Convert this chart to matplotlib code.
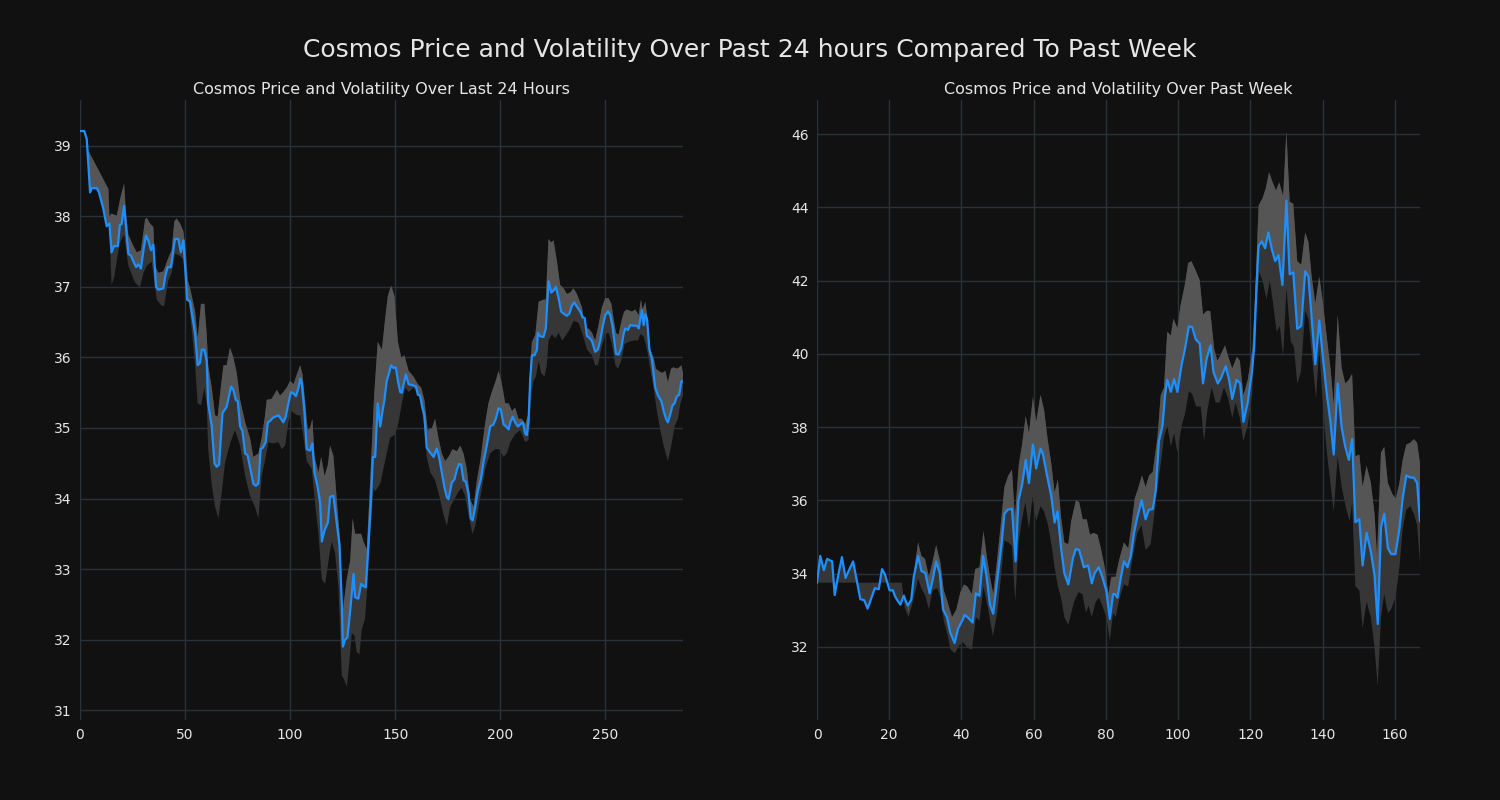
import matplotlib
matplotlib.use("Agg")
import matplotlib.pyplot as plt
import numpy as np

# ---------------- data: last 24 hours (5-min steps) ----------------
day_x = [0, 2, 3.2, 4.8, 5.6, 8, 9, 11, 12.7, 14, 15, 16.2, 18, 19, 19.8, 21, 22.2, 23, 24.3, 25.4, 26.7, 27.8, 29,
         30.2, 31.4, 32.5, 33.8, 34.9, 36.2, 37.3, 39.7, 40.5, 41.7, 43.3, 45.2, 46.8, 48, 49.2, 50, 51, 52.4, 54.8,
         56, 57.1, 58, 59.2, 60.3, 61, 62.7, 64, 65, 66.2, 67.8, 69.8, 71.9, 73, 74.1, 75.1, 76.2, 77.3, 78.6, 79.8,
         80.9, 82.5, 83.7, 84.9, 86, 87, 88.4, 89.4, 90.5, 91.6, 92.9, 94.4, 95.7, 96.8, 97.9, 99.2, 100.4, 101.6,
         102.8, 104, 104.9, 105.6, 106.8, 107.9, 109.5, 110.6, 111.6, 113.2, 114.3, 115.1, 116.4, 118, 119, 120.6,
         122.2, 123.5, 124.6, 125.1, 126.2, 127.3, 128.6, 130.2, 130.9, 132.5, 133.8, 134.9, 136, 137.3, 138.4,
         139.4, 140.5, 141.7, 142.9, 144, 144.9, 146, 147.1, 148.1, 149.2, 150.3, 151.3, 152.4, 153.2, 154.4, 155.1,
         156.4, 157.9, 159.9, 160.8, 161.9, 162.7, 163.9, 165, 166.7, 168.3, 169.8, 170.9, 172.2, 173.5, 174.6,
         175.4, 177, 178.2, 179.4, 180.4, 181.4, 182.5, 183.6, 184.9, 186, 186.9, 188.1, 189.3, 190.9, 192, 193.6,
         195.2, 196.8, 197.9, 199.2, 200.3, 201.6, 202.8, 204, 204.8, 206, 207.1, 208.4, 209.5, 210.8, 211.9, 212.7,
         213.5, 214.3, 215.1, 216.3, 217.5, 217.9, 219, 220.6, 221.7, 223, 224.3, 225.4, 226.5, 227.8, 229, 230.2,
         231.7, 232.9, 234.1, 235.2, 236.5, 238.1, 239.2, 240.2, 241.3, 242.4, 243.7, 245.2, 246.5, 247.6, 248.7,
         250, 251.3, 252.4, 253.5, 254.4, 255.1, 256.3, 257.6, 258.7, 259.5, 260.8, 261.9, 263.5, 265.1, 265.9,
         266.7, 267.5, 268.3, 269.1, 269.9, 271, 272.2, 273.8, 275.1, 276.7, 277.8, 278.9, 279.8, 280.9, 282, 283,
         284.1, 285.2, 286.2, 287]
day_price = [39.21, 39.21, 39.1, 38.34, 38.4, 38.4, 38.34, 38.12, 37.86, 37.9, 37.49, 37.58, 37.58, 37.88, 37.89,
             38.15, 37.74, 37.47, 37.44, 37.36, 37.28, 37.32, 37.26, 37.52, 37.73, 37.66, 37.52, 37.6, 37.0, 36.96,
             36.98, 37.14, 37.28, 37.28, 37.68, 37.68, 37.49, 37.66, 37.3, 36.82, 36.79, 36.33, 35.89, 35.92, 36.11,
             36.11, 35.95, 35.35, 35.02, 34.5, 34.45, 34.48, 35.21, 35.3, 35.59, 35.54, 35.4, 35.38, 35.02, 34.96,
             34.64, 34.61, 34.45, 34.21, 34.18, 34.21, 34.7, 34.72, 34.8, 35.08, 35.1, 35.14, 35.16, 35.18, 35.13,
             35.08, 35.16, 35.35, 35.51, 35.49, 35.45, 35.57, 35.7, 35.62, 35.24, 34.7, 34.68, 34.78, 34.37, 34.15,
             33.93, 33.39, 33.55, 33.66, 34.02, 34.04, 33.66, 33.34, 32.52, 31.9, 32.0, 32.03, 32.41, 32.93, 32.6,
             32.58, 32.79, 32.76, 32.74, 33.34, 33.93, 34.59, 34.59, 35.35, 35.02, 35.24, 35.4, 35.67, 35.78, 35.89,
             35.85, 35.86, 35.67, 35.51, 35.5, 35.67, 35.76, 35.62, 35.61, 35.59, 35.47, 35.46, 35.32, 35.18, 34.72,
             34.65, 34.59, 34.71, 34.59, 34.37, 34.15, 34.02, 33.99, 34.23, 34.27, 34.41, 34.49, 34.48, 34.26, 34.24,
             34.07, 33.72, 33.69, 33.88, 34.1, 34.29, 34.51, 34.75, 35.02, 35.05, 35.13, 35.28, 35.26, 35.05, 35.02,
             34.98, 35.08, 35.16, 35.08, 35.02, 35.05, 35.08, 34.92, 34.9, 35.1, 35.7, 36.03, 36.03, 36.11, 36.35,
             36.3, 36.29, 36.41, 37.08, 36.92, 36.95, 37.0, 36.84, 36.65, 36.62, 36.59, 36.62, 36.73, 36.78, 36.72,
             36.65, 36.57, 36.56, 36.3, 36.28, 36.23, 36.08, 36.11, 36.24, 36.43, 36.6, 36.65, 36.6, 36.43, 36.22,
             36.05, 36.04, 36.13, 36.33, 36.41, 36.39, 36.46, 36.45, 36.45, 36.41, 36.54, 36.67, 36.46, 36.61, 36.54,
             36.11, 35.97, 35.57, 35.46, 35.38, 35.24, 35.13, 35.08, 35.19, 35.32, 35.35, 35.45, 35.47, 35.66, 35.66]

day_upper_x = [0, 2, 4, 13.5, 14, 15, 17.5, 19, 21, 21.8, 23, 25.4, 27, 29, 31, 31.8, 33.3, 34.9, 35.7, 37.3, 39.7,
               42, 43.6, 44.9, 46, 47.6, 49.2, 50.3, 51.3, 52.4, 54.8, 56, 57.6, 59.2, 60.3, 61, 62.7, 64.3, 65.5, 67,
               68.3, 69.8, 71.4, 73, 74.6, 76.2, 78.6, 80.9, 82.5, 84.9, 86.5, 88, 88.9, 91.1, 93.7, 95.2, 96.8, 98.4,
               100, 101.6, 103.2, 104.8, 105.9, 107.2, 108.4, 109.5, 110.6, 111.6, 113.5, 114.8, 116.4, 118, 119,
               120.6, 122.2, 123.8, 124.9, 126.9, 128.6, 129.8, 130.9, 133.8, 134.9, 136.5, 137.6, 138.9, 140, 141.7,
               143.7, 145.2, 146.5, 148.1, 149.7, 151.3, 152.9, 154.4, 156.4, 158.7, 160.8, 162.4, 163.9, 165.5,
               167.5, 169, 170.6, 172.2, 173.8, 175.4, 177.3, 179.4, 181, 182.5, 184.1, 185.7, 187.3, 188.9, 190.5,
               192.9, 194.4, 196, 197.9, 199.2, 200.5, 202.4, 204, 205.6, 207.1, 208.7, 210.3, 211.9, 213.2, 214.3,
               215.1, 216.7, 218.3, 220.6, 221.7, 223, 224.3, 225.4, 227, 228.5, 230.2, 231.7, 233.3, 234.9, 236.5,
               238.9, 240.5, 242.1, 243.7, 245.2, 246.8, 248.4, 250, 251.6, 252.9, 254, 255.1, 256.3, 257.9, 259,
               260.3, 262.7, 264.3, 265.9, 267, 267.8, 269.1, 270.3, 271.4, 273, 274.1, 275.4, 277, 278.6, 279.8,
               281.3, 282.5, 284.1, 285.2, 286.2, 287]
day_upper = [39.21, 39.21, 38.93, 38.39, 38.0, 38.04, 38.01, 38.23, 38.47, 38.07, 37.74, 37.58, 37.49, 37.52, 37.96,
             37.98, 37.9, 37.85, 37.3, 37.2, 37.22, 37.41, 37.52, 37.93, 37.97, 37.9, 37.79, 37.52, 37.09, 36.98,
             36.65, 36.27, 36.76, 36.76, 36.33, 35.89, 35.57, 35.18, 35.16, 35.57, 35.89, 35.89, 36.14, 36.0, 35.78,
             35.4, 35.08, 34.86, 34.59, 34.64, 34.86, 35.16, 35.4, 35.41, 35.54, 35.46, 35.51, 35.57, 35.67, 35.62,
             35.76, 35.89, 35.76, 35.35, 34.97, 35.0, 35.13, 34.59, 34.37, 34.59, 34.32, 34.48, 34.75, 34.61, 33.99,
             33.39, 32.36, 32.85, 33.12, 33.72, 33.5, 33.5, 33.39, 33.28, 33.93, 34.75, 35.46, 36.22, 36.11, 36.54,
             36.87, 37.02, 36.87, 36.22, 36.0, 36.03, 35.81, 35.73, 35.62, 35.57, 35.4, 34.97, 35.0, 35.13, 34.86,
             34.64, 34.53, 34.59, 34.7, 34.67, 34.75, 34.64, 34.42, 33.99, 33.88, 34.26, 34.53, 35.08, 35.35, 35.51,
             35.67, 35.81, 35.67, 35.35, 35.35, 35.24, 35.29, 35.13, 35.13, 35.05, 35.18, 35.85, 36.22, 36.32, 36.79,
             36.82, 36.82, 37.68, 37.63, 37.66, 37.36, 37.03, 36.98, 36.9, 36.92, 36.98, 36.9, 36.71, 36.41, 36.41,
             36.35, 36.24, 36.46, 36.71, 36.84, 36.84, 36.76, 36.54, 36.35, 36.32, 36.54, 36.65, 36.68, 36.65, 36.68,
             36.6, 36.82, 36.68, 36.79, 36.49, 36.11, 36.0, 35.84, 35.81, 35.78, 35.81, 35.65, 35.84, 35.86, 35.84,
             35.86, 35.89, 35.78]

day_lower_x = [0, 2, 3.2, 4.8, 5.6, 8, 9, 11, 12.7, 14, 15, 16.3, 18, 19, 21, 23, 26.2, 28.6, 30.2, 31.8, 34.1, 36.5,
               38.9, 40, 42, 43.6, 45.2, 47.6, 49.2, 50.8, 52.4, 54.8, 56, 57.6, 59.2, 60.3, 61, 62.7, 64.3, 65.9,
               67.5, 69, 71.4, 73.8, 76.2, 78.6, 80.9, 83.3, 84.9, 86.5, 88, 89.7, 92, 94.4, 96, 97.6, 99.2, 100.8,
               103.2, 104.8, 106.4, 107.9, 110.3, 111.9, 113.5, 115.1, 116.7, 118.3, 119.8, 121.4, 123, 124.6, 125.8,
               127, 128.1, 129.4, 130.6, 131.7, 133, 134.1, 135.7, 137, 138.1, 139.7, 140.5, 142.9, 145.2, 147.6, 150,
               151.6, 153.2, 154.8, 156.4, 158.7, 160.8, 162.4, 163.9, 165, 166.7, 169, 171.4, 173, 174.6, 176.2,
               178.2, 180.2, 181.7, 183.3, 184.9, 186.8, 188.1, 189.7, 191.3, 192.9, 195.2, 197.6, 199.5, 201.6,
               203.2, 204.8, 207.1, 209.5, 211.9, 213.5, 214.8, 215.9, 217, 218.3, 219.5, 221.1, 222.2, 223, 224.6,
               226.2, 227.8, 229.4, 231, 232.9, 235, 237.3, 239.2, 241.3, 243.7, 245.2, 246.5, 248, 250, 251.6, 253.2,
               254.8, 256, 257.6, 259.2, 261.1, 263.5, 265.6, 266.7, 268.3, 269.9, 271.4, 273, 274.6, 276.2, 277.8,
               279.8, 281.4, 283, 284.6, 285.8, 287]
day_lower = [39.21, 39.21, 39.1, 38.34, 38.4, 38.4, 38.34, 38.12, 37.86, 37.9, 37.03, 37.14, 37.47, 37.63, 37.74,
             37.3, 37.06, 37.0, 37.2, 37.3, 37.36, 36.82, 36.73, 36.73, 37.09, 37.2, 37.47, 37.44, 37.39, 37.03,
             36.63, 35.89, 35.35, 35.32, 35.57, 35.35, 34.7, 34.2, 33.88, 33.72, 34.1, 34.5, 34.78, 34.97, 34.75,
             34.32, 34.04, 33.88, 33.72, 34.32, 34.53, 34.8, 34.78, 34.8, 34.7, 34.75, 35.08, 35.24, 35.18, 35.18,
             34.86, 34.53, 34.42, 33.93, 33.5, 32.85, 32.79, 33.12, 33.39, 33.23, 32.74, 31.49, 31.43, 31.33, 31.65,
             32.09, 32.06, 31.82, 31.79, 32.14, 32.3, 32.85, 33.5, 34.15, 34.1, 34.21, 34.53, 34.86, 34.91, 35.08,
             35.35, 35.57, 35.51, 35.57, 35.51, 35.32, 35.02, 34.59, 34.37, 34.26, 33.99, 33.77, 33.61, 33.88, 33.99,
             34.1, 34.15, 34.04, 33.77, 33.5, 33.61, 33.88, 34.15, 34.42, 34.64, 34.7, 34.7, 34.59, 34.64, 34.8,
             34.91, 34.97, 34.8, 34.83, 35.51, 35.67, 35.73, 35.95, 35.78, 35.73, 35.89, 36.24, 36.33, 36.27, 36.35,
             36.24, 36.3, 36.39, 36.52, 36.49, 36.33, 36.11, 36.03, 35.89, 35.89, 36.11, 36.33, 36.35, 36.19, 35.89,
             35.84, 35.95, 36.19, 36.22, 36.24, 36.24, 36.33, 36.3, 36.11, 35.84, 35.57, 35.24, 34.97, 34.75, 34.53,
             34.75, 35.02, 35.13, 35.35, 35.46]

# ---------------- data: past week (hourly) ----------------
week_x = [0, 0.9, 1.9, 2.8, 4.2, 4.9, 5.8, 6.9, 7.9, 9, 10, 10.9, 12, 13.1, 14, 15.1, 16, 17.1, 18, 18.8, 19.4, 20.1,
          21, 21.7, 22.5, 23.1, 24, 25.1, 26.1, 26.8, 28, 28.9, 30, 31.2, 32, 33, 34, 34.9, 36, 36.9, 38.1, 39.1, 40.2,
          40.9, 42, 43.1, 44, 45, 46, 46.9, 47.9, 48.8, 49.9, 51.1, 51.9, 52.8, 54, 55, 55.8, 56.8, 57.8, 58.7, 59.8,
          60.7, 61.9, 62.6, 63.7, 64.9, 65.8, 66.6, 67.6, 68.5, 69.6, 70.9, 71.7, 72.6, 73.9, 75.1, 76.1, 76.9, 78,
          79, 80.1, 81.1, 82, 82.5, 83.2, 84.1, 85, 86, 86.9, 87.8, 88.7, 89.9, 91, 91.9, 93, 93.8, 94.7, 95.7, 96.4,
          97, 98, 98.9, 99.8, 101, 101.9, 103, 103.9, 104.9, 106, 106.9, 107.9, 109, 109.8, 111, 111.9, 113.2, 114.1,
          115, 116.2, 117.2, 118.1, 119.3, 120.5, 121.1, 121.7, 122.3, 123.2, 124.1, 125, 126, 126.9, 127.8, 128.9,
          130, 130.9, 131.9, 133, 134.1, 135.2, 136.1, 137, 138, 139.1, 140, 141.2, 142.2, 143.1, 144.2, 145.3,
          146.3, 147.3, 148.2, 149.1, 150.2, 151.1, 152.2, 153.4, 154.4, 155.3, 156.2, 157.1, 158.1, 159, 160.2,
          161.3, 162.2, 163.2, 164.3, 165.3, 166.2, 167]
week_price = [33.75, 34.48, 34.09, 34.4, 34.33, 33.41, 33.91, 34.45, 33.88, 34.12, 34.33, 33.86, 33.3, 33.27, 33.04,
              33.34, 33.6, 33.57, 34.12, 33.98, 33.78, 33.54, 33.54, 33.36, 33.23, 33.15, 33.39, 33.13, 33.28, 33.91,
              34.48, 34.07, 34.01, 33.46, 33.81, 34.33, 34.01, 33.02, 32.81, 32.39, 32.1, 32.5, 32.71, 32.87, 32.78,
              32.66, 33.46, 33.39, 34.48, 33.96, 33.15, 32.9, 33.81, 34.8, 35.63, 35.74, 35.77, 34.33, 36.0, 36.42,
              37.1, 36.47, 37.52, 36.87, 37.41, 37.25, 36.68, 36.1, 35.39, 35.69, 34.69, 34.01, 33.7, 34.43, 34.67,
              34.64, 34.17, 34.22, 33.73, 34.01, 34.17, 33.91, 33.54, 32.76, 33.44, 33.44, 33.34, 33.86, 34.33, 34.17,
              34.48, 35.11, 35.53, 36.0, 35.48, 35.74, 35.76, 36.26, 37.62, 38.04, 38.87, 39.29, 38.96, 39.31, 38.96,
              39.71, 40.13, 40.75, 40.73, 40.39, 40.28, 39.19, 39.86, 40.23, 39.5, 39.19, 39.34, 39.66, 39.3, 38.77,
              39.29, 39.19, 38.14, 38.67, 39.55, 40.23, 41.8, 42.95, 43.07, 42.88, 43.31, 42.84, 42.53, 42.69, 41.88,
              44.18, 42.17, 42.22, 40.68, 40.76, 42.25, 42.11, 40.96, 39.71, 40.91, 40.0, 38.89, 38.14, 37.25, 39.19,
              37.99, 37.46, 37.1, 37.67, 35.4, 35.48, 34.22, 35.11, 34.59, 33.96, 32.62, 35.27, 35.63, 34.69, 34.53,
              34.53, 35.22, 36.05, 36.68, 36.62, 36.62, 36.47, 35.43]

week_upper_x = [0, 0.9, 1.9, 2.8, 4.2, 4.9, 5.8, 6.9, 7.9, 9, 10, 10.9, 12, 13.1, 14, 15.1, 16, 17.1, 18, 18.8, 19.4,
                20.1, 21, 21.7, 22.5, 23.1, 24, 24.3, 25.3, 26.2, 27.1, 28, 28.9, 29.9, 31, 31.9, 33, 34.2, 35.1, 36,
                37.4, 38.6, 39.7, 40.7, 41.6, 42.9, 43.8, 45, 46.1, 47, 47.9, 48.8, 50, 51.1, 51.9, 53, 54, 54.8, 55.9,
                56.8, 57.8, 58.7, 59.8, 60.7, 61.9, 62.9, 63.8, 64.9, 65.8, 66.7, 67.6, 68.5, 69.6, 70.4, 71.7, 72.6,
                73.6, 74.7, 75.6, 76.6, 77.7, 78.6, 79.7, 80.7, 81.5, 82.7, 83.7, 85, 86.2, 87.1, 88, 88.9, 90, 91, 92,
                93, 94.3, 95.2, 96.1, 97, 98, 98.7, 99.8, 100.7, 101.9, 102.8, 103.7, 104.9, 106, 106.9, 107.9, 108.9,
                110, 110.9, 111.8, 113, 113.9, 115, 116.3, 117.1, 118.1, 119.3, 120.6, 121.4, 122.3, 123.4, 124.3,
                125.2, 126.2, 127.1, 128, 129.1, 130, 130.9, 131.9, 133, 134.1, 135.2, 136.1, 137, 138, 139.1, 140,
                141.2, 142.2, 143.1, 144.2, 145.3, 146.3, 147.3, 148.2, 149.1, 150.2, 151.1, 152.2, 153.4, 154.4,
                155.1, 156.2, 157.1, 158.1, 159.4, 160.3, 161.3, 162.2, 163.2, 164.3, 165.3, 166.2, 167]
week_upper = [33.75, 34.48, 34.09, 34.4, 34.33, 33.41, 33.91, 34.45, 33.88, 34.12, 34.33, 33.86, 33.3, 33.27, 33.04,
              33.34, 33.6, 33.57, 34.12, 33.98, 33.78, 33.54, 33.54, 33.36, 33.23, 33.15, 33.39, 33.44, 32.92, 33.39,
              34.22, 34.85, 34.48, 34.4, 33.91, 34.28, 34.78, 34.28, 33.54, 33.28, 32.81, 33.02, 33.49, 33.7, 33.65,
              33.44, 34.12, 34.17, 35.16, 34.48, 33.91, 33.44, 34.48, 35.53, 36.36, 36.68, 36.84, 35.53, 36.99, 37.52,
              38.3, 37.83, 38.82, 38.14, 38.88, 38.46, 37.72, 36.99, 36.21, 36.57, 35.53, 34.85, 34.8, 35.43, 36.0,
              35.95, 35.48, 35.48, 35.06, 35.11, 35.06, 34.69, 34.17, 33.44, 33.91, 33.91, 34.38, 34.85, 34.69, 35.32,
              36.05, 36.31, 36.68, 36.36, 36.68, 36.78, 37.73, 38.87, 39.08, 40.6, 40.5, 40.96, 40.7, 41.33, 41.9,
              42.48, 42.53, 42.27, 42.01, 41.07, 41.17, 41.17, 40.13, 39.81, 39.97, 40.23, 39.92, 39.6, 39.92, 39.81,
              38.87, 39.29, 40.13, 41.7, 44.05, 44.25, 44.52, 44.96, 44.68, 44.46, 44.68, 44.31, 46.08, 44.15, 44.1,
              42.53, 42.43, 43.31, 43.05, 42.11, 41.38, 42.11, 41.49, 40.44, 39.61, 38.62, 41.07, 39.61, 39.19, 39.29,
              39.45, 37.2, 37.25, 36.37, 36.94, 36.47, 35.63, 34.48, 37.3, 37.46, 36.47, 36.16, 36.05, 36.47, 37.1,
              37.52, 37.57, 37.67, 37.57, 37.0]

week_lower_x = [0, 23.5, 24.3, 25.3, 26.4, 27.3, 28, 28.9, 30, 31, 32, 33.3, 34.2, 35.1, 36, 37, 38.2, 39.3, 40.4,
                41.6, 42.9, 44, 45, 46.1, 47.4, 48.7, 49.9, 50.9, 51.9, 53, 54, 54.9, 55.8, 56.7, 57.7, 58.7, 59.7,
                60.7, 61.9, 62.9, 64, 64.9, 65.8, 66.7, 67.6, 68.5, 69.6, 71.2, 72.4, 73.5, 74.5, 75.2, 76.1, 77.2,
                78.1, 79, 80.1, 81.1, 82, 82.7, 83.8, 85, 86.2, 87.3, 88.7, 89.9, 91, 92.4, 93.3, 94.3, 95.2, 96.1, 97,
                98, 98.9, 99.8, 101, 101.9, 103, 103.9, 105, 106.3, 107.2, 108.1, 109.3, 110.4, 111.5, 112.7, 113.9,
                115, 115.9, 117.1, 118.1, 119.3, 120.5, 121.6, 122.5, 123.4, 124.5, 125.4, 126.3, 127.3, 128.2, 129.1,
                130, 131.2, 132.1, 133, 134, 135.2, 136.1, 137.3, 138.2, 139.1, 140.2, 141.2, 142.2, 143.1, 144.2,
                145.3, 146.4, 147.5, 148.2, 149.1, 150.2, 151.1, 152.2, 153.4, 154.4, 155.3, 156.2, 157.1, 158.1, 159,
                160.2, 161.3, 162.2, 163.2, 164.3, 165.3, 166.2, 167]
week_lower = [33.75, 33.75, 33.07, 32.81, 33.18, 33.54, 33.86, 33.6, 33.39, 33.02, 33.54, 33.6, 33.34, 32.71, 32.39,
              31.92, 31.82, 32.03, 32.13, 31.98, 31.92, 32.81, 32.71, 33.65, 33.02, 32.29, 32.92, 33.86, 34.9, 34.85,
              34.75, 33.23, 34.8, 35.43, 35.95, 35.22, 36.1, 35.43, 35.84, 35.69, 35.32, 34.8, 34.17, 33.65, 33.34,
              32.81, 32.6, 33.23, 33.49, 33.44, 32.92, 33.13, 32.81, 33.23, 33.34, 33.13, 32.81, 32.18, 32.92, 32.81,
              33.34, 33.7, 33.65, 34.38, 35.11, 35.32, 34.64, 34.8, 35.53, 36.36, 36.99, 37.73, 38.04, 37.47, 37.83,
              37.31, 38.04, 38.35, 38.98, 38.9, 38.56, 38.56, 37.62, 38.46, 39.08, 38.67, 38.67, 39.08, 38.77, 38.25,
              38.67, 38.25, 37.62, 38.04, 38.87, 41.17, 42.22, 42.0, 41.49, 42.01, 41.38, 40.6, 40.76, 39.92, 41.8,
              40.34, 40.18, 39.19, 39.5, 41.17, 40.96, 39.71, 38.77, 40.13, 38.46, 37.31, 36.47, 35.69, 37.2, 36.37,
              35.84, 35.42, 35.95, 33.65, 33.54, 32.5, 33.23, 32.81, 31.98, 30.93, 32.81, 33.44, 32.92, 33.02, 33.34,
              34.17, 35.22, 35.74, 35.84, 35.63, 35.32, 34.28]

# ---------------- styling ----------------
BG = "#111111"
GRID = "#2a313c"
LINE = "#1e8fff"
DARK = "#363636"
LIGHT = "#555555"
TXT = "#e6e6e6"

fig = plt.figure(figsize=(15, 8), dpi=100, facecolor=BG)
ax1 = fig.add_axes([80 / 1500, 80 / 800, 603 / 1500, 620 / 800])
ax2 = fig.add_axes([817 / 1500, 80 / 800, 603 / 1500, 620 / 800])


def draw(ax, x, y, ux, uy, lx, ly, title, xlim, ylim, xticks, yticks):
    ax.set_facecolor(BG)
    # full band (dark), then lighter part between price and upper bound
    ax.fill(list(ux) + list(lx)[::-1], list(uy) + list(ly)[::-1], color=DARK, lw=0, zorder=2)
    ax.fill(list(ux) + list(x)[::-1], list(uy) + list(y)[::-1], color=LIGHT, lw=0, zorder=3)
    ax.plot(x, y, color=LINE, lw=1.6, zorder=4)
    ax.set_xlim(*xlim)
    ax.set_ylim(*ylim)
    ax.set_xticks(xticks)
    ax.set_yticks(yticks)
    ax.grid(True, color=GRID, lw=1.0, zorder=0)
    ax.set_axisbelow(True)
    for s in ax.spines.values():
        s.set_visible(False)
    ax.tick_params(length=0, colors=TXT, labelsize=10, pad=6)
    ax.set_title(title, color=TXT, fontsize=11.5, pad=4)


draw(ax1, day_x, day_price, day_upper_x, day_upper, day_lower_x, day_lower,
     "Cosmos Price and Volatility Over Last 24 Hours", (0, 287), (30.86, 39.65),
     [0, 50, 100, 150, 200, 250], [31, 32, 33, 34, 35, 36, 37, 38, 39])
draw(ax2, week_x, week_price, week_upper_x, week_upper, week_lower_x, week_lower,
     "Cosmos Price and Volatility Over Past Week", (0, 167), (30.0, 46.93),
     [0, 20, 40, 60, 80, 100, 120, 140, 160], [32, 34, 36, 38, 40, 42, 44, 46])

fig.suptitle("Cosmos Price and Volatility Over Past 24 hours Compared To Past Week",
             color=TXT, fontsize=18, y=1 - 50 / 800, va="center")

fig.savefig("out.png", dpi=100, facecolor=BG)
